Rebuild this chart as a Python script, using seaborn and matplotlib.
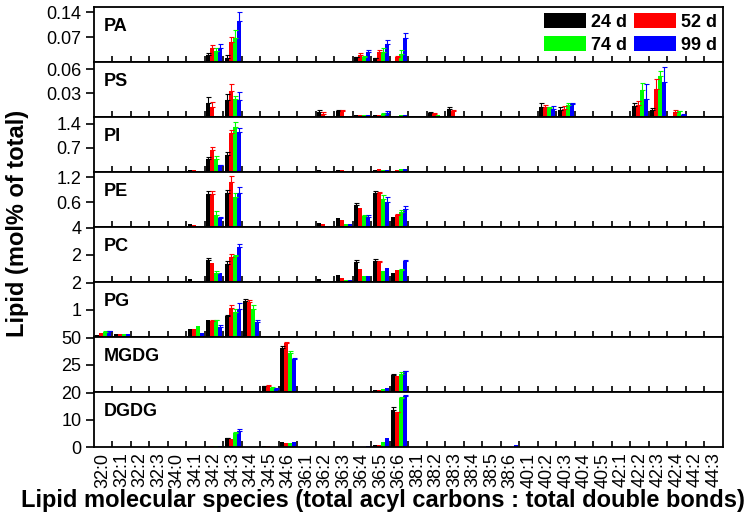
import numpy as np
import pandas as pd
import matplotlib
matplotlib.use("Agg")
import matplotlib.pyplot as plt
import seaborn as sns
from matplotlib.patches import Patch

# Data
SPECIES = ["32:0", "32:1", "32:2", "32:3", "34:0", "34:1", "34:2", "34:3", "34:4",
           "34:5", "34:6", "36:1", "36:2", "36:3", "36:4", "36:5", "36:6", "38:1",
           "38:2", "38:3", "38:4", "38:5", "38:6", "40:1", "40:2", "40:3", "40:4",
           "40:5", "42:1", "42:2", "42:3", "42:4", "44:2", "44:3"]
AGES = ["24 d", "52 d", "74 d", "99 d"]
COLORS = ["#000000", "#ff0000", "#00ff00", "#0000ff"]

# values per species: [24 d, 52 d, 74 d, 99 d]; species not listed are 0
PA = {"34:1": [0.001, 0.0, 0.002, 0.003], "34:2": [0.020, 0.040, 0.031, 0.038],
      "34:3": [0.012, 0.055, 0.066, 0.116], "34:4": [0.002, 0.001, 0.0, 0.0],
      "36:2": [0.0, 0.001, 0.001, 0.002], "36:3": [0.002, 0.003, 0.003, 0.003],
      "36:4": [0.013, 0.020, 0.015, 0.027], "36:5": [0.010, 0.029, 0.029, 0.050],
      "36:6": [0.0, 0.013, 0.022, 0.068]}
PA_ERR = {"34:2": [0.005, 0.008, 0.007, 0.012], "34:3": [0.008, 0.014, 0.023, 0.023],
          "36:4": [0.002, 0.006, 0.002, 0.006], "36:5": [0.002, 0.006, 0.011, 0.013],
          "36:6": [0.0, 0.005, 0.011, 0.012]}

PS = {"34:1": [0.0, 0.0, 0.0, 0.001], "34:2": [0.0175, 0.012, 0.001, 0.001],
      "34:3": [0.021, 0.033, 0.0225, 0.021], "36:2": [0.006, 0.004, 0.001, 0.0],
      "36:3": [0.007, 0.007, 0.001, 0.001], "36:4": [0.003, 0.003, 0.002, 0.003],
      "36:5": [0.003, 0.003, 0.004, 0.005], "36:6": [0.0, 0.0, 0.002, 0.003],
      "38:2": [0.0046, 0.0037, 0.003, 0.0], "38:3": [0.010, 0.007, 0.0, 0.0],
      "38:4": [0.001, 0.0, 0.0, 0.0], "40:2": [0.013, 0.0125, 0.011, 0.0105],
      "40:3": [0.009, 0.0105, 0.015, 0.016], "42:2": [0.0133, 0.0154, 0.034, 0.023],
      "42:3": [0.009, 0.035, 0.051, 0.044], "42:4": [0.001, 0.0067, 0.007, 0.003],
      "44:2": [0.001, 0.0005, 0.001, 0.0], "44:3": [0.0, 0.0, 0.001, 0.0]}
PS_ERR = {"34:2": [0.007, 0.007, 0.0, 0.0], "34:3": [0.008, 0.008, 0.004, 0.010],
          "36:2": [0.003, 0.002, 0.0, 0.0], "36:3": [0.002, 0.002, 0.0, 0.0],
          "36:5": [0.0, 0.0, 0.001, 0.002], "38:2": [0.002, 0.001, 0.0, 0.0],
          "38:3": [0.002, 0.002, 0.0, 0.0], "40:2": [0.004, 0.002, 0.002, 0.003],
          "40:3": [0.003, 0.003, 0.002, 0.002], "42:2": [0.004, 0.005, 0.009, 0.018],
          "42:3": [0.002, 0.013, 0.007, 0.019], "42:4": [0.0, 0.002, 0.001, 0.001]}

PI = {"34:1": [0.05, 0.05, 0.04, 0.01], "34:2": [0.38, 0.64, 0.37, 0.19],
      "34:3": [0.50, 1.13, 1.32, 1.15], "36:2": [0.05, 0.04, 0.01, 0.0],
      "36:3": [0.05, 0.05, 0.03, 0.0], "36:4": [0.04, 0.04, 0.01, 0.0],
      "36:5": [0.06, 0.08, 0.06, 0.05], "36:6": [0.04, 0.06, 0.08, 0.08]}
PI_ERR = {"34:2": [0.07, 0.10, 0.10, 0.01], "34:3": [0.08, 0.08, 0.13, 0.12]}

PE = {"34:1": [0.07, 0.05, 0.01, 0.01], "34:2": [0.79, 0.79, 0.30, 0.22],
      "34:3": [0.82, 1.08, 0.72, 0.81], "36:2": [0.10, 0.07, 0.02, 0.02],
      "36:3": [0.22, 0.17, 0.08, 0.08], "36:4": [0.54, 0.45, 0.27, 0.25],
      "36:5": [0.82, 0.81, 0.68, 0.61], "36:6": [0.25, 0.29, 0.36, 0.44],
      "38:2": [0.01, 0.0, 0.0, 0.0], "40:2": [0.03, 0.03, 0.0, 0.0],
      "42:2": [0.03, 0.02, 0.0, 0.0], "42:3": [0.0, 0.03, 0.0, 0.01],
      "42:4": [0.0, 0.01, 0.0, 0.0]}
PE_ERR = {"34:2": [0.07, 0.07, 0.09, 0.02], "34:3": [0.07, 0.15, 0.10, 0.15],
          "36:4": [0.04, 0.0, 0.03, 0.03], "36:5": [0.05, 0.03, 0.08, 0.11],
          "36:6": [0.0, 0.02, 0.05, 0.06]}

PC = {"34:1": [0.2, 0.1, 0.0, 0.0], "34:2": [1.63, 1.38, 0.69, 0.64],
      "34:3": [1.33, 1.83, 1.93, 2.59], "36:2": [0.2, 0.1, 0.0, 0.0],
      "36:3": [0.49, 0.30, 0.12, 0.12], "36:4": [1.48, 0.99, 0.44, 0.44],
      "36:5": [1.58, 1.48, 0.84, 1.01], "36:6": [0.67, 0.86, 0.91, 1.56]}
PC_ERR = {"34:2": [0.12, 0.0, 0.10, 0.0], "34:3": [0.20, 0.25, 0.10, 0.25],
          "36:4": [0.15, 0.0, 0.0, 0.0], "36:5": [0.12, 0.10, 0.0, 0.0],
          "36:6": [0.0, 0.0, 0.05, 0.10]}

PG = {"32:0": [0.06, 0.14, 0.20, 0.22], "32:1": [0.12, 0.11, 0.11, 0.11],
      "34:1": [0.31, 0.31, 0.39, 0.16], "34:2": [0.62, 0.59, 0.62, 0.38],
      "34:3": [0.76, 1.08, 0.94, 1.05], "34:4": [1.34, 1.29, 1.03, 0.54]}
PG_ERR = {"32:0": [0.0, 0.0, 0.02, 0.02], "34:2": [0.0, 0.02, 0.02, 0.05],
          "34:3": [0.05, 0.10, 0.10, 0.20], "34:4": [0.08, 0.06, 0.15, 0.10]}

MGDG = {"34:3": [0.0, 0.0, 0.3, 0.3], "34:4": [0.3, 0.2, 0.0, 0.0],
        "34:5": [5.2, 5.5, 4.0, 3.0], "34:6": [40.5, 44.8, 35.6, 30.1],
        "36:5": [1.5, 1.5, 2.5, 3.4], "36:6": [15.7, 14.7, 16.6, 19.0],
        "38:6": [0.0, 0.0, 0.0, 0.6]}
MGDG_ERR = {"34:5": [0.5, 0.5, 0.3, 0.3], "34:6": [1.5, 1.5, 2.5, 1.5],
            "36:6": [0.6, 0.0, 1.5, 0.6]}

DGDG = {"34:2": [0.0, 0.2, 0.3, 0.4], "34:3": [3.2, 2.8, 5.1, 6.0],
        "34:5": [0.4, 0.2, 0.0, 0.0], "34:6": [1.8, 1.3, 1.3, 1.7],
        "36:3": [0.0, 0.0, 0.1, 0.1], "36:4": [0.0, 0.0, 0.1, 0.2],
        "36:5": [0.9, 0.8, 2.0, 3.2], "36:6": [13.6, 12.8, 18.0, 18.8],
        "38:6": [0.0, 0.0, 0.0, 0.6]}
DGDG_ERR = {"34:3": [0.3, 0.0, 0.3, 0.6], "36:6": [1.2, 0.3, 0.5, 0.4]}

CLASSES = ["PA", "PS", "PI", "PE", "PC", "PG", "MGDG", "DGDG"]
VALUES = [PA, PS, PI, PE, PC, PG, MGDG, DGDG]
ERRORS = [PA_ERR, PS_ERR, PI_ERR, PE_ERR, PC_ERR, PG_ERR, MGDG_ERR, DGDG_ERR]
YTICKS = [[0.07, 0.14], [0.03, 0.06], [0.7, 1.4], [0.6, 1.2], [2, 4], [1, 2],
          [25, 50], [0, 10, 20]]
YTICKLABELS = [["0.07", "0.14"], ["0.03", "0.06"], ["0.7", "1.4"], ["0.6", "1.2"],
               ["2", "4"], ["1", "2"], ["25", "50"], ["0", "10", "20"]]
YMAX = [0.154, 0.069, 1.6, 1.32, 4.07, 2.03, 50.5, 20.3]


def to_frame(vals, errs):
    rows = []
    for sp in SPECIES:
        v = vals.get(sp, [0, 0, 0, 0])
        e = errs.get(sp, [0, 0, 0, 0])
        for age, vi, ei in zip(AGES, v, e):
            rows.append((sp, age, vi, ei))
    return pd.DataFrame(rows, columns=["species", "age", "value", "err"])


sns.set_style("ticks")
plt.rcParams["font.family"] = ["Liberation Sans", "DejaVu Sans"]
plt.rcParams.update({"text.color": "black", "xtick.color": "black",
                     "ytick.color": "black", "axes.edgecolor": "black",
                     "axes.labelcolor": "black"})

fig, axes = plt.subplots(8, 1, figsize=(7.5, 5.16), dpi=100, sharex=True)
fig.subplots_adjust(left=0.1253, right=0.964, top=0.9864, bottom=0.1337, hspace=0)

for ax, name, vals, errs, ticks, tlabels, ymax in zip(
        axes, CLASSES, VALUES, ERRORS, YTICKS, YTICKLABELS, YMAX):
    df = to_frame(vals, errs)
    sns.barplot(data=df, x="species", y="value", hue="age", order=SPECIES,
                hue_order=AGES, palette=COLORS, saturation=1, width=0.86,
                errorbar=None, legend=False, linewidth=0, ax=ax)

    # one-sided error bars on top of each bar
    for cont, age, col in zip(ax.containers, AGES, COLORS):
        er = df.loc[df["age"] == age, "err"].to_numpy()
        xs = np.array([b.get_x() + b.get_width() / 2 for b in cont])
        hs = np.array([b.get_height() for b in cont])
        m = er > 0
        if m.any():
            ax.errorbar(xs[m], hs[m], yerr=[np.zeros(m.sum()), er[m]], fmt="none",
                        ecolor=col, elinewidth=0.8, capsize=1.8, capthick=0.8)

    ax.set_ylim(0, ymax)
    ax.set_yticks(ticks)
    ax.set_yticklabels(tlabels)
    ax.set_xlim(-0.5, len(SPECIES) - 0.5)
    ax.set_xlabel("")
    ax.set_ylabel("")
    ax.set_xticks(np.arange(0.5, len(SPECIES) - 1, 1), minor=True)
    ax.tick_params(axis="y", direction="out", length=6, width=1.2, labelsize=13, pad=3)
    ax.tick_params(axis="x", which="major", length=0, pad=4, labelsize=13)
    ax.tick_params(axis="x", which="minor", direction="in", length=4, width=1.2,
                   bottom=True, top=False)
    for sp in ax.spines.values():
        sp.set_linewidth(1.3)
        sp.set_color("black")
    ax.text(0.016, 0.64, name, transform=ax.transAxes, fontsize=13,
            fontweight="bold", va="center", ha="left")

axes[-1].set_xticks(range(len(SPECIES)))
axes[-1].set_xticklabels(SPECIES, rotation=90)

# legend: row 1 = 24 d, 52 d; row 2 = 74 d, 99 d
order = [0, 2, 1, 3]
handles = [Patch(facecolor=COLORS[i], edgecolor="none") for i in order]
labels = [AGES[i] for i in order]
axes[0].legend(handles, labels, ncol=2, loc="upper right", bbox_to_anchor=(1.0, 1.0),
               frameon=False, prop={"weight": "bold", "size": 13},
               handlelength=2.33, handleheight=0.9, labelspacing=0.3,
               columnspacing=0.4, handletextpad=0.25, borderaxespad=0.0,
               borderpad=0.35)

fig.text(0.511, 0.031, "Lipid molecular species (total acyl carbons : total double bonds)",
         ha="center", va="center", fontsize=17, fontweight="bold")
fig.text(0.024, 0.567, "Lipid (mol% of total)", rotation=90, ha="center", va="center",
         fontsize=17, fontweight="bold")

fig.savefig("out.png", dpi=100)
